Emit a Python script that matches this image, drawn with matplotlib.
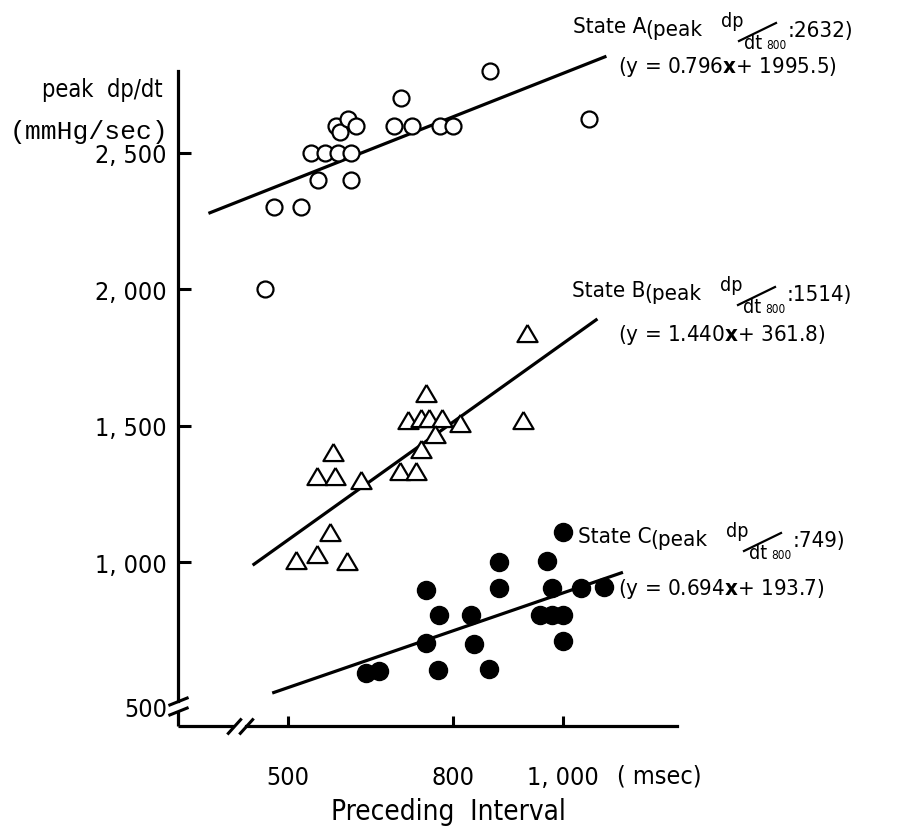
import matplotlib
matplotlib.use("Agg")
import matplotlib.pyplot as plt
from matplotlib import font_manager
from matplotlib.lines import Line2D
from matplotlib.transforms import ScaledTranslation

installed = {f.name for f in font_manager.fontManager.ttflist}
NARROW = 'Liberation Sans Narrow' if 'Liberation Sans Narrow' in installed else 'DejaVu Sans'
MONO = 'Liberation Mono' if 'Liberation Mono' in installed else 'DejaVu Sans Mono'

plt.rcParams['font.family'] = NARROW
plt.rcParams['font.stretch'] = 'condensed'
plt.rcParams['mathtext.fontset'] = 'custom'
plt.rcParams['mathtext.bf'] = NARROW + ':bold'

# --- data ---
a_x = [474, 524, 555, 615, 541, 567, 591, 615, 587, 595, 609, 623, 706, 692, 725, 776, 800, 867, 1047, 459]
a_y = [2300, 2300, 2400, 2400, 2500, 2500, 2500, 2500, 2600, 2575, 2625, 2600, 2700, 2600, 2600, 2600, 2600, 2800, 2625, 2000]
b_x = [750, 718, 741, 756, 779, 812, 768, 741, 703, 733, 582, 552, 586, 633, 576, 514, 552, 607, 935, 927]
b_y = [1620, 1520, 1530, 1530, 1530, 1510, 1470, 1415, 1335, 1335, 1405, 1315, 1315, 1300, 1110, 1010, 1030, 1005, 1840, 1520]
c_x = [999, 883, 970, 750, 883, 979, 1032, 1074, 775, 832, 958, 979, 999, 750, 838, 999, 641, 665, 772, 865]
c_y = [1110, 1000, 1005, 900, 905, 905, 905, 910, 805, 805, 805, 805, 805, 705, 700, 710, 595, 600, 605, 608]

states = ['A', 'B', 'C']
slopes = [0.796, 1.440, 0.694]
intercepts = [1995.5, 361.8, 193.7]
fit_start = [358, 438, 474]
fit_end = [1076, 1060, 1106]
peak_800 = [2632, 1514, 749]

y_ticks = [500, 1000, 1500, 2000, 2500]
y_labels = ['500', '1, 000', '1, 500', '2, 000', '2, 500']
x_ticks = [500, 800, 1000]
x_labels = ['500', '800', '1, 000']

W, H = 905, 828
fig = plt.figure(figsize=(W / 100, H / 100), dpi=100)
ax = fig.add_axes([178 / W, 1 - 727 / H, 499 / W, 655 / H])
ax.set_xlim(300, 1207)
ax.set_ylim(400, 2800)


def ftext(x, y, s, **kw):
    kw.setdefault('va', 'baseline')
    return fig.text(x / W, 1 - y / H, s, **kw)


def fline(x1, y1, x2, y2, lw=1.6):
    fig.add_artist(Line2D([x1 / W, x2 / W], [1 - y1 / H, 1 - y2 / H],
                          transform=fig.transFigure, color='k', lw=lw))


# points
ax.plot(a_x, a_y, ls='none', marker='o', ms=11.5, mfc='white', mec='k', mew=1.6, clip_on=False, zorder=3)
tri = [(0, 0.85), (-1, -0.85), (1, -0.85), (0, 0.85)]
ax.plot(b_x, b_y, ls='none', marker=tri, ms=14.5, mfc='white', mec='k', mew=1.6, clip_on=False, zorder=3)
ax.plot(c_x, c_y, ls='none', marker='o', ms=13, mfc='k', mec='k', clip_on=False, zorder=3)

# regression lines
for m, b, x0, x1 in zip(slopes, intercepts, fit_start, fit_end):
    ax.plot([x0, x1], [m * x0 + b, m * x1 + b], color='k', lw=2.3, clip_on=False, zorder=2)

# axes with breaks
for s in ['top', 'right']:
    ax.spines[s].set_visible(False)
for s in ['left', 'bottom']:
    ax.spines[s].set_linewidth(2.3)
ax.spines['left'].set_bounds(492, 2800)
ax.spines['bottom'].set_bounds(423, 1207)
ax.plot([300, 300], [400, 455], color='k', lw=2.3, clip_on=False, solid_capstyle='butt')
ax.plot([300, 401], [400, 400], color='k', lw=2.3, clip_on=False, solid_capstyle='butt')
ax.plot([300, 300], [455, 492], ls='none', marker=[(-1, -0.4), (1, 0.4)], ms=14.5,
        mfc='none', mec='k', mew=2.2, clip_on=False)
ax.plot([401, 423], [400, 400], ls='none', marker=[(-0.9, -1), (0.9, 1)], ms=11.5,
        mfc='none', mec='k', mew=2.2, clip_on=False)

ax.set_yticks(y_ticks)
ax.set_yticklabels(y_labels)
ax.set_xticks(x_ticks)
ax.set_xticklabels(x_labels)
ax.tick_params(axis='y', direction='in', length=9.5, width=2.2, labelsize=18, pad=8)
ax.tick_params(axis='x', direction='in', length=7.5, width=2.2, labelsize=18, pad=28)
ax.yaxis.get_major_ticks()[0].tick1line.set_visible(False)
lab500 = ax.get_yticklabels()[0]
lab500.set_transform(lab500.get_transform() + ScaledTranslation(0, -8 / 100, fig.dpi_scale_trans))

# axis titles
ftext(163, 97, 'peak  dp/dt', ha='right', fontsize=17)
ftext(168, 139, '(mmHg/sec)', ha='right', fontsize=19, family=MONO)
ftext(617, 784, '( msec)', ha='left', fontsize=18)
ftext(448, 820, 'Preceding  Interval', ha='center', fontsize=20)

# state annotations
label_xy = [(573, 33), (572, 297), (578, 543)]
eq_xy = [(618, 73), (618, 341), (618, 595)]
for st, m, b, pk, (sx, sy), (ex, ey) in zip(states, slopes, intercepts, peak_800, label_xy, eq_xy):
    ftext(sx, sy, 'State ' + st, fontsize=16)
    ftext(sx + 72, sy + 3, '(peak', fontsize=16)
    ftext(sx + 148, sy - 6, 'dp', fontsize=14)
    fline(sx + 166, sy + 9, sx + 203, sy - 9)
    ftext(sx + 171, sy + 16, 'dt', fontsize=14)
    ftext(sx + 193, sy + 16, '800', fontsize=8.5)
    ftext(sx + 215, sy + 4, ':' + str(pk) + ')', fontsize=16)
    ftext(ex, ey, '(y = ' + f'{m:.3f}' + r'$\mathbf{x}$' + '+ ' + f'{b:.1f}' + ')', fontsize=16)

fig.savefig('out.png', dpi=100)
